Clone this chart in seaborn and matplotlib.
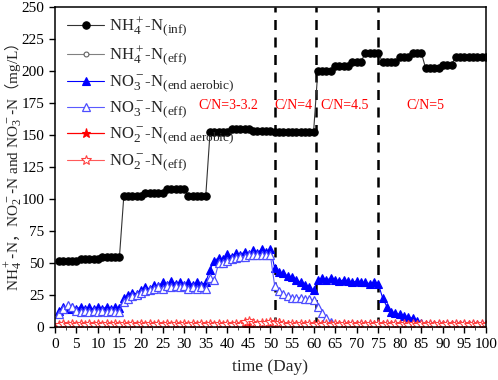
import numpy as np
import matplotlib
matplotlib.use('Agg')
from matplotlib import pyplot as plt
from matplotlib.ticker import MultipleLocator
import matplotlib._mathtext as mathtext_mod
import seaborn as sns

# sub/superscripts in the original are drawn larger than mathtext's default
mathtext_mod.SHRINK_FACTOR = 0.8

# ---------------- data ----------------
days = list(range(1, 101))

nh4_inf = [52, 52, 52, 52, 52, 53, 53, 53, 53, 53,
           55, 55, 55, 55, 55, 102, 102, 102, 102, 102,
           105, 105, 105, 105, 105, 108, 108, 108, 108, 108,
           102, 102, 102, 102, 102, 152, 152, 152, 152, 152,
           155, 155, 155, 155, 155, 153, 153, 153, 153, 153,
           152, 152, 152, 152, 152, 152, 152, 152, 152, 152,
           200, 200, 200, 200, 204, 204, 204, 204, 207, 207,
           207, 214, 214, 214, 214, 207, 207, 207, 207, 211,
           211, 211, 214, 214, 214, 202, 202, 202, 202, 205,
           205, 205, 211, 211, 211, 211, 211, 211, 211, 211]

nh4_eff = [0.5, 0.3, 0.6, 0.4, 0.5, 0.3, 0.6, 0.4, 0.5, 0.3,
           0.6, 0.4, 0.5, 0.3, 0.6, 0.4, 0.5, 0.3, 0.6, 0.4,
           0.5, 0.3, 0.6, 0.4, 0.5, 0.3, 0.6, 0.4, 0.5, 0.3,
           0.6, 0.4, 0.5, 0.3, 0.6, 0.4, 0.5, 0.3, 0.6, 0.4,
           0.5, 0.3, 0.6, 0.4, 0.5, 0.3, 0.6, 0.4, 0.5, 0.3,
           0.6, 0.4, 0.5, 0.3, 0.6, 0.4, 0.5, 0.3, 0.6, 0.4,
           0.5, 0.3, 0.6, 0.4, 0.5, 0.3, 0.6, 0.4, 0.5, 0.3,
           0.6, 0.4, 0.5, 0.3, 0.6, 0.4, 0.5, 0.3, 0.6, 0.4,
           0.5, 0.3, 0.6, 0.4, 0.5, 0.3, 0.6, 0.4, 0.5, 0.3,
           0.6, 0.4, 0.5, 0.3, 0.6, 0.4, 0.5, 0.3, 0.6, 0.4]

no3_aer = [13, 16, 14, 16, 14, 16, 14, 16, 14, 16,
           14, 16, 14, 16, 15, 23, 25, 27, 26, 29,
           31, 30, 33, 32, 35, 33, 36, 34, 35, 33,
           35, 33, 35, 33, 35, 45, 52, 54, 53, 57,
           55, 58, 56, 59, 57, 60, 58, 61, 59, 61,
           46, 43, 42, 40, 39, 37, 35, 33, 31, 29,
           37, 38, 37, 38, 37, 36, 37, 36, 35, 36,
           35, 35, 34, 35, 34, 23, 16, 12, 11, 10,
           9, 8, 7, 5, 3, 2, 1.5, 2, 1.5, 2,
           1.5, 2, 1.5, 2, 1.5, 2, 1.5, 2, 1.5, 1.5]

no3_eff = [10, 14, 17, 16, 13, 12, 13, 12, 13, 12,
           13, 12, 13, 12, 12, 20, 22, 24, 25, 27,
           28, 29, 30, 31, 30, 32, 31, 32, 31, 32,
           30, 31, 30, 31, 30, 38, 37, 50, 50, 52,
           53, 54, 55, 55, 56, 56, 56, 56, 56, 56,
           32, 28, 26, 24, 23, 23, 23, 22, 22, 21,
           16, 11, 7, 4, 2, 1.5, 2.5, 1.5, 2.5, 1.5,
           2.5, 1.5, 2.5, 1.5, 2.5, 1.5, 2.5, 1.5, 2.5, 1.5,
           2.5, 1.5, 2.5, 1.5, 2.5, 1.5, 2.5, 1.5, 2.5, 1.5,
           2.5, 1.5, 2.5, 1.5, 2.5, 1.5, 2.5, 1.5, 2.5, 1.5]

no2_aer = [1, 2, 1, 2, 1, 2, 1, 2, 1, 2,
           1, 2, 1, 2, 1, 2, 1, 2, 1, 2,
           1, 2, 1, 2, 1, 2, 1, 2, 1, 2,
           1, 2, 1, 2, 1, 2, 1, 2, 1, 2,
           1, 2, 1, 2, 1, 2, 1, 2, 2, 3,
           2, 3, 1, 2, 1, 2, 1, 2, 1, 2,
           1, 2, 1, 2, 1, 2, 1, 2, 1, 2,
           1, 2, 1, 2, 1, 2, 1, 2, 1, 2,
           1, 2, 1, 2, 1, 2, 1, 2, 1, 2,
           1, 2, 1, 2, 1, 2, 1, 2, 1, 1]

no2_eff = [1.5, 2.5, 1.5, 2.5, 1.5, 2.5, 1.5, 2.5, 1.5, 2.5,
           1.5, 2.5, 1.5, 2.5, 1.5, 2.5, 1.5, 2.5, 1.5, 2.5,
           1.5, 2.5, 1.5, 2.5, 1.5, 2.5, 1.5, 2.5, 1.5, 2.5,
           1.5, 2.5, 1.5, 2.5, 1.5, 2.5, 1.5, 2.5, 1.5, 2.5,
           1.5, 2.5, 1.5, 4, 5, 3, 2.5, 3.5, 3, 4,
           3, 3.5, 2.5, 1.5, 2.5, 1.5, 2.5, 1.5, 2.5, 1.5,
           2.5, 1.5, 2.5, 1.5, 2.5, 1.5, 2.5, 1.5, 2.5, 1.5,
           2.5, 1.5, 2.5, 1.5, 2.5, 1.5, 2.5, 1.5, 2.5, 1.5,
           2.5, 1.5, 2.5, 1.5, 2.5, 1.5, 2.5, 1.5, 2.5, 1.5,
           2.5, 1.5, 2.5, 1.5, 2.5, 1.5, 2.5, 1.5, 2.5, 1.5]

phase_bounds = [51, 60.5, 75]
phase_labels = ['C/N=3-3.2', 'C/N=4', 'C/N=4.5', 'C/N=5']
phase_label_x = [40.2, 55.4, 67.3, 86.0]
phase_label_y = 173

# ---------------- style ----------------
sns.set_style('ticks')
plt.rcParams['font.family'] = ['Liberation Serif', 'Noto Sans CJK SC']
plt.rcParams['mathtext.fontset'] = 'custom'
plt.rcParams['mathtext.rm'] = 'Liberation Serif'
plt.rcParams['mathtext.it'] = 'Liberation Serif:italic'
plt.rcParams['mathtext.bf'] = 'Liberation Serif:bold'
plt.rcParams['mathtext.default'] = 'rm'
plt.rcParams['axes.linewidth'] = 1.1
plt.rcParams['xtick.major.size'] = 4
plt.rcParams['ytick.major.size'] = 4
plt.rcParams['xtick.minor.size'] = 2.5
plt.rcParams['xtick.major.width'] = 1.0
plt.rcParams['ytick.major.width'] = 1.0

fig, ax = plt.subplots(figsize=(4.98, 3.80), dpi=100)
fig.subplots_adjust(left=0.110, right=0.976, bottom=0.139, top=0.982)

series = [
    (nh4_inf, r'NH$_4^+$-N$_{\rm (inf)}$', dict(color='#333333', marker='o', markersize=5.3,
                                                 markerfacecolor='black', markeredgecolor='black', linewidth=0.8)),
    (nh4_eff, r'NH$_4^+$-N$_{\rm (eff)}$', dict(color='#808080', marker='o', markersize=3.5,
                                                 markerfacecolor='white', markeredgecolor='#606060', linewidth=0.8)),
    (no3_aer, r'NO$_3^-$-N$_{\rm (end\ aerobic)}$', dict(color='#0000ff', marker='^', markersize=6.3,
                                                        markerfacecolor='#0000ff', markeredgecolor='#0000ff', linewidth=0.8)),
    (no3_eff, r'NO$_3^-$-N$_{\rm (eff)}$', dict(color='#5a5aff', marker='^', markersize=6.3,
                                                 markerfacecolor='white', markeredgecolor='#4d4dff', linewidth=0.8,
                                                 markeredgewidth=0.9)),
    (no2_aer, r'NO$_2^-$-N$_{\rm (end\ aerobic)}$', dict(color='#ff0000', marker='*', markersize=6.5,
                                                        markerfacecolor='#ff0000', markeredgecolor='#ff0000', linewidth=0.9)),
    (no2_eff, r'NO$_2^-$-N$_{\rm (eff)}$', dict(color='#ff5a5a', marker='*', markersize=7,
                                                 markerfacecolor='white', markeredgecolor='#ff4040', linewidth=0.8,
                                                 markeredgewidth=0.8)),
]

for vals, lab, kw in series:
    kw.setdefault('markeredgewidth', 0.8)
    sns.lineplot(x=days, y=vals, ax=ax, label=lab, **kw)

for xb in phase_bounds:
    ax.axvline(xb, color='black', linewidth=1.8, linestyle=(0, (4, 3)), zorder=1)

for txt, xt in zip(phase_labels, phase_label_x):
    ax.text(xt, phase_label_y, txt, color='#ff0000', fontsize=10, ha='center', va='center')

ax.set_xlim(0, 100)
ax.set_ylim(0, 250)
ax.xaxis.set_major_locator(MultipleLocator(5))
ax.xaxis.set_minor_locator(MultipleLocator(2.5))
ax.yaxis.set_major_locator(MultipleLocator(25))
ax.tick_params(axis='both', labelsize=11, direction='out', colors='black')
for sp in ax.spines.values():
    sp.set_visible(True)
    sp.set_color('black')

ax.set_xlabel('time (Day)', fontsize=12.5, labelpad=6)
ax.set_ylabel(r'$\mathrm{NH_4^+}$-$\mathrm{N}$，$\mathrm{NO_2^-}$-$\mathrm{N\ and\ NO_3^-}$-$\mathrm{N}$（$\mathrm{mg/L}$）',
              fontsize=11, family='Noto Sans CJK SC')
ax.yaxis.set_label_coords(-0.072, 0.5)

ax.legend(loc='upper left', bbox_to_anchor=(0.012, 1.0), frameon=False, fontsize=12,
          handlelength=2.2, labelspacing=0.36, borderaxespad=0.05, handletextpad=0.3)

plt.savefig('out.png', dpi=100)
